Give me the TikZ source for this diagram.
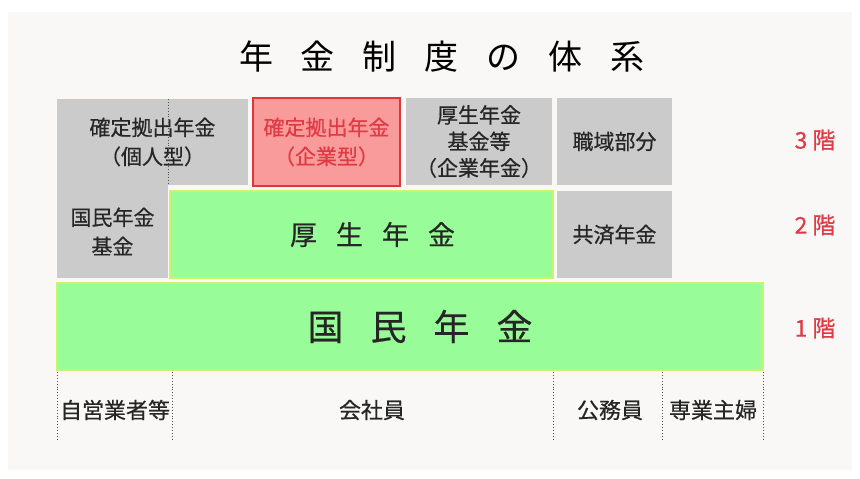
\documentclass[tikz,border=0pt]{standalone}
\usepackage{fontspec}
\newfontfamily\jp{Noto Sans CJK JP}
\newfontfamily\jpm[FakeBold=0.5]{Noto Sans CJK JP}
\definecolor{bgc}{HTML}{F9F8F7}
\definecolor{grayfill}{HTML}{CBCBCB}
\definecolor{greenfill}{HTML}{98FC98}
\definecolor{greenline}{HTML}{C8F56A}
\definecolor{redfill}{HTML}{F99B9B}
\definecolor{redline}{HTML}{E0363A}
\definecolor{redtext}{HTML}{E03A44}
\definecolor{txt}{HTML}{262626}
\tikzset{
  base/.style={inner sep=0pt, outer sep=0pt, align=center, text=txt, font=\jpm\fontsize{21}{29}\selectfont},
  graybox/.style={base, fill=grayfill},
  redbox/.style={base, fill=redfill, draw=redline, line width=1.2pt, text=redtext},
  greenbox/.style={base, fill=greenfill, draw=greenline, line width=1.5pt},
  floor/.style={inner sep=0pt, text=redtext, font=\jpm\fontsize{23}{26}\selectfont},
  who/.style={inner sep=0pt, text=txt, font=\jpm\fontsize{22}{24}\selectfont},
  divider/.style={draw=txt!80, line width=0.9pt, dotted}
}
\begin{document}
\begin{tikzpicture}[x=1pt,y=-1pt]
\useasboundingbox (0,0) rectangle (860,479);
\fill[white] (0,0) rectangle (860,479);
\fill[bgc] (8,12) rectangle (852,470);

% title
\node[inner sep=0pt, text=black, font=\jp\fontsize{34}{36}\selectfont] (title) at (442,57)
  {年\hspace{28pt}金\hspace{28pt}制\hspace{28pt}度\hspace{28pt}の\hspace{28pt}体\hspace{28pt}系};

% 3rd floor
\node[graybox, minimum width=191pt, minimum height=86pt, anchor=north west] (kojin) at (57,99)
  {確定拠出年金\\（個人型）};
\node[redbox, minimum width=147pt, minimum height=88pt, anchor=north west] (kigyo) at (253,98)
  {確定拠出年金\\（企業型）};
\node[graybox, minimum width=146pt, minimum height=87pt, anchor=north west,
      font=\jpm\fontsize{21}{26.5}\selectfont] (kikin) at (406,98)
  {厚生年金\\基金等\\（企業年金）};
\node[graybox, minimum width=115pt, minimum height=87pt, anchor=north west] (shokuiki) at (557,98)
  {職域部分};

% 2nd floor
\node[graybox, minimum width=111pt, minimum height=93pt, anchor=north west] (kokukikin) at (57,185)
  {国民年金\\基金};
\node[greenbox, minimum width=383pt, minimum height=87pt, anchor=north west,
      font=\jpm\fontsize{27}{30}\selectfont] (kosei) at (170,191)
  {\hspace{22pt}厚\hspace{19pt}生\hspace{19pt}年\hspace{19pt}金};
\node[graybox, minimum width=115pt, minimum height=87pt, anchor=north west] (kyosai) at (557,191)
  {共済年金};

% 1st floor
\node[greenbox, minimum width=706pt, minimum height=87pt, anchor=north west,
      font=\jpm\fontsize{36}{40}\selectfont] (kokumin) at (57,283)
  {\hspace{20pt}国\hspace{27pt}民\hspace{27pt}年\hspace{27pt}金};

% dotted line inside the individual-type box
\coordinate (dA) at (168,99);
\coordinate (dB) at (168,185);
\draw[divider] (dA) -- (dB);

% floor labels
\node[floor] (f3) at (815,140) {3\hspace{5pt}階};
\node[floor] (f2) at (815,225) {2\hspace{5pt}階};
\node[floor] (f1) at (815,328) {1\hspace{5pt}階};

% dividers below
\foreach \i/\xx in {1/57,2/172,3/553,4/662,5/763}{
  \coordinate (t\i) at (\xx,372);
  \coordinate (b\i) at (\xx,440);
  \draw[divider] (t\i) -- (b\i);
}

% groups
\node[who] (jiei) at (115,410) {自営業者等};
\node[who] (kaisha) at (372,410) {会社員};
\node[who] (komu) at (610,410) {公務員};
\node[who] (sengyo) at (713,410) {専業主婦};
\end{tikzpicture}
\end{document}
